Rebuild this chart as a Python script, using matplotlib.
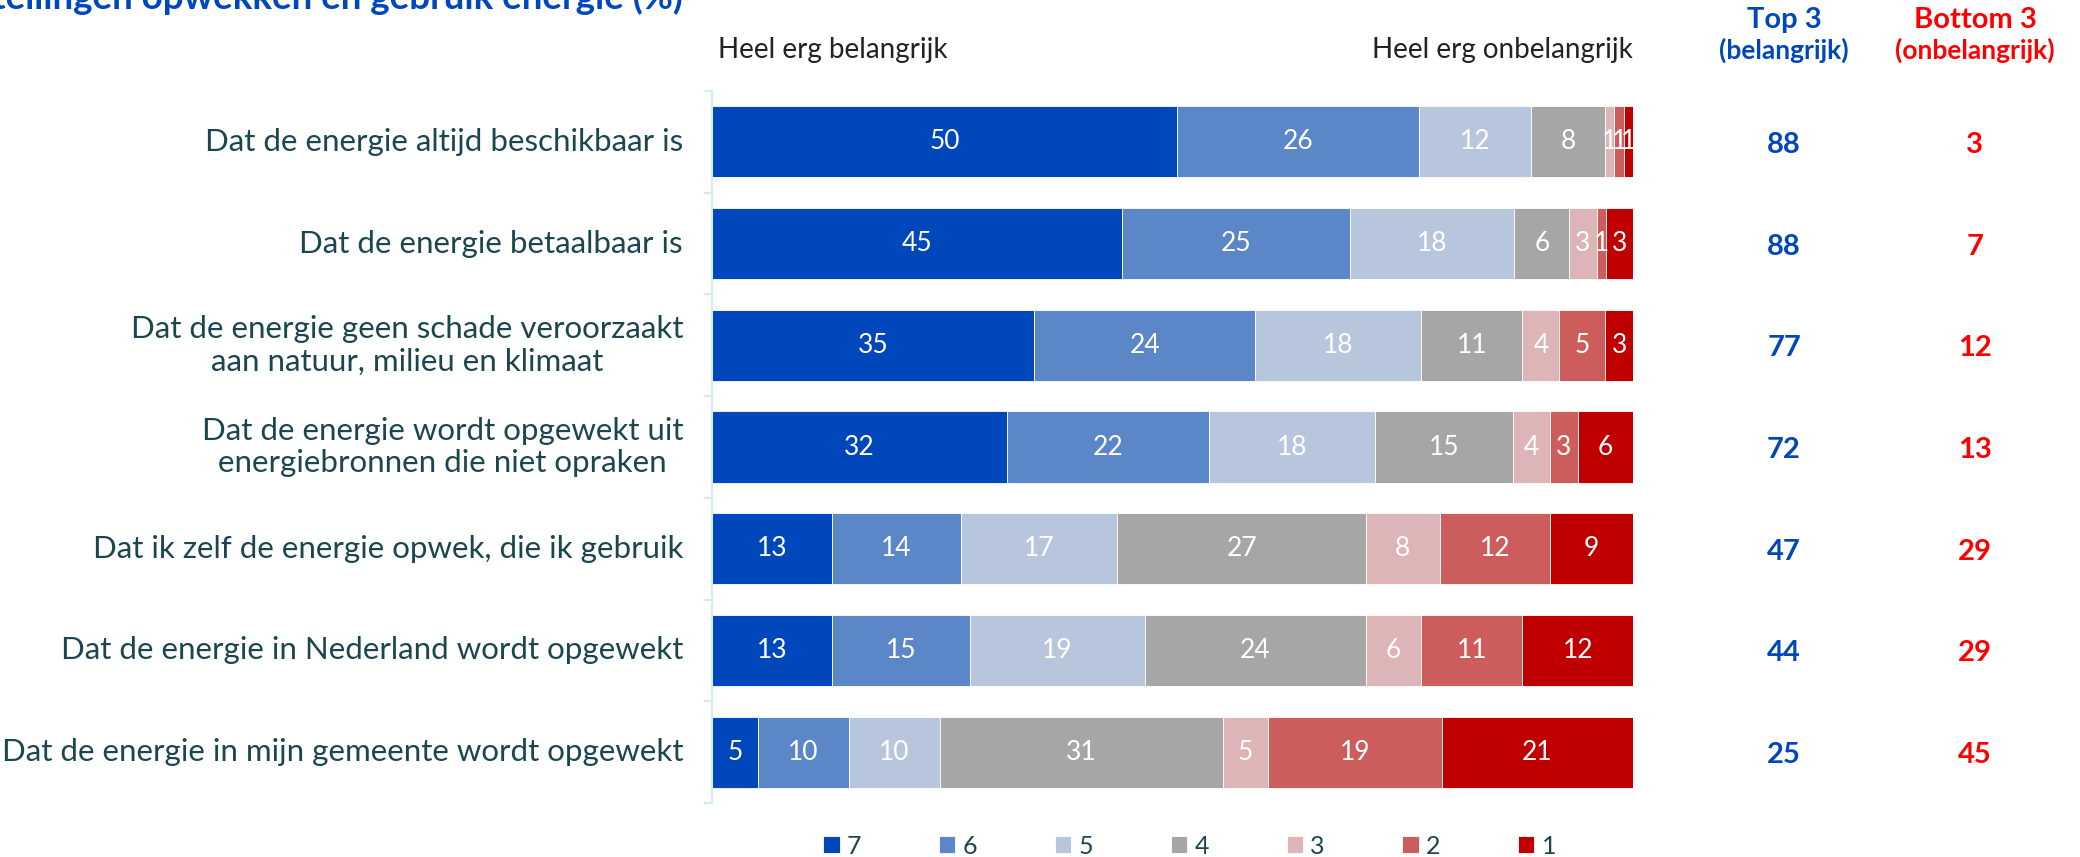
import matplotlib
matplotlib.use("Agg")
import matplotlib.pyplot as plt
import matplotlib.transforms as mtransforms
import numpy as np

plt.rcParams['font.family'] = ['Lato', 'DejaVu Sans']

statements = [
    "Dat de energie altijd beschikbaar is",
    "Dat de energie betaalbaar is",
    "Dat de energie geen schade veroorzaakt\naan natuur, milieu en klimaat",
    "Dat de energie wordt opgewekt uit\nenergiebronnen die niet opraken",
    "Dat ik zelf de energie opwek, die ik gebruik",
    "Dat de energie in Nederland wordt opgewekt",
    "Dat de energie in mijn gemeente wordt opgewekt",
]
scores = ["7", "6", "5", "4", "3", "2", "1"]
s7 = [50, 45, 35, 32, 13, 13, 5]
s6 = [26, 25, 24, 22, 14, 15, 10]
s5 = [12, 18, 18, 18, 17, 19, 10]
s4 = [8, 6, 11, 15, 27, 24, 31]
s3 = [1, 3, 4, 4, 8, 6, 5]
s2 = [1, 1, 5, 3, 12, 11, 19]
s1 = [1, 3, 3, 6, 9, 12, 21]
top3 = [88, 88, 77, 72, 47, 44, 25]
bottom3 = [3, 7, 12, 13, 29, 29, 45]

colors = ["#0047BB", "#5B87C9", "#B7C6DC", "#A6A6A6", "#DEB5B6", "#CD5C5C", "#C00000"]
blue = "#0047BB"
red = "#FF0000"
label_col = "#1B4650"

data = np.array([s7, s6, s5, s4, s3, s2, s1], dtype=float)
shares = data / data.sum(axis=0) * 100  # bars all run to 100%

fig = plt.figure(figsize=(20.8, 8.57), dpi=100)
ax = fig.add_axes([0.3423, 0.063, 0.4428, 0.8308])

y = np.arange(len(statements))
left = np.zeros(len(statements))
for i, sc in enumerate(scores):
    bars = ax.barh(y, shares[i], left=left, height=0.7, color=colors[i],
                   edgecolor="white", linewidth=0.6, label=sc)
    for j, b in enumerate(bars):
        ax.text(left[j] + shares[i][j] / 2, y[j], str(int(data[i][j])),
                ha="center", va="center", color="white", fontsize=19,
                fontweight="normal")
    left += shares[i]

ax.set_xlim(0, 100)
ax.set_ylim(len(statements) - 0.5, -0.5)
ax.set_xticks([])
ax.set_yticks(np.arange(-0.5, len(statements)))
ax.set_yticklabels([])
ax.tick_params(axis="y", length=6, width=1.5, color="#D3ECF1")
for sp in ["top", "right", "bottom"]:
    ax.spines[sp].set_visible(False)
ax.spines["left"].set_color("#D3ECF1")
ax.spines["left"].set_linewidth(1.5)

trans = mtransforms.blended_transform_factory(fig.transFigure, ax.transData)
for j, s in enumerate(statements):
    ax.text(0.3284, y[j], s, transform=trans, ha="right", va="center",
            multialignment="center", fontsize=22.5, fontweight="normal",
            color=label_col, linespacing=1.2)
    ax.text(0.8577, y[j] + 0.03, str(top3[j]), transform=trans, ha="center", va="center",
            fontsize=21, fontweight="bold", color=blue)
    ax.text(0.9495, y[j] + 0.03, str(bottom3[j]), transform=trans, ha="center", va="center",
            fontsize=21, fontweight="bold", color=red)

fig.text(0.3452, 1 - 50 / 857, "Heel erg belangrijk", ha="left", va="center",
         fontsize=20, fontweight="normal", color="#222222")
fig.text(0.7851, 1 - 50 / 857, "Heel erg onbelangrijk", ha="right", va="center",
         fontsize=20, fontweight="normal", color="#222222")

fig.text(0.8577, 1 - 20 / 857, "Top 3", ha="center", va="center",
         fontsize=21, fontweight="bold", color=blue)
fig.text(0.8577, 1 - 50 / 857, "(belangrijk)", ha="center", va="center",
         fontsize=19, fontweight="bold", color=blue)
fig.text(0.9495, 1 - 20 / 857, "Bottom 3", ha="center", va="center",
         fontsize=21, fontweight="bold", color=red)
fig.text(0.9495, 1 - 50 / 857, "(onbelangrijk)", ha="center", va="center",
         fontsize=19, fontweight="bold", color=red)

fig.text(0.3284, 1 - 9 / 857, "Belang van stellingen opwekken en gebruik energie (%)",
         ha="right", va="baseline", fontsize=26.5, fontweight="bold", color=blue)

fig.legend(loc="center", bbox_to_anchor=(0.572, 1 - 846 / 857), ncol=7,
           frameon=False, handlelength=0.65, handleheight=0.65,
           handletextpad=0.3, columnspacing=3.1, labelcolor=label_col,
           prop={"weight": "normal", "size": 18})

fig.savefig("out.png", dpi=100)
